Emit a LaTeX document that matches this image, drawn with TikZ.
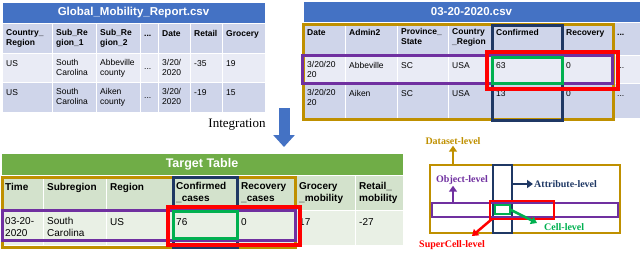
\documentclass[tikz,border=0pt]{standalone}
\usepackage{fontspec}
\setmainfont{Liberation Serif}
\setsansfont{Liberation Sans}
\usetikzlibrary{arrows.meta, positioning}

\definecolor{hdrblue}{HTML}{4472C4}
\definecolor{bluedark}{HTML}{CFD5EA}
\definecolor{bluelight}{HTML}{E9EBF5}
\definecolor{hdrgreen}{HTML}{70AD47}
\definecolor{greendark}{HTML}{D3E2CC}
\definecolor{greenlight}{HTML}{E9F0E5}
\definecolor{goldline}{HTML}{BF9000}
\definecolor{navyline}{HTML}{1F3864}
\definecolor{purpleline}{HTML}{7030A0}
\definecolor{redline}{HTML}{FF0000}
\definecolor{greenline}{HTML}{00B050}

\begin{document}
\begin{tikzpicture}[
    x=1pt, y=-1pt,
    cell/.style={draw=white, line width=1pt, fill=#1, anchor=north west, inner sep=0pt, outer sep=0pt},
    titlecell/.style={text=white, font=\sffamily\bfseries\fontsize{11.5}{13}\selectfont},
    celltext/.style={anchor=north west, align=left, inner xsep=4pt, inner ysep=6.5pt,
        execute at begin node=\strut, font=\sffamily\fontsize{8.5}{10}\selectfont},
    headtext/.style={celltext, font=\sffamily\bfseries\fontsize{8.5}{10}\selectfont},
    bigtext/.style={celltext, inner ysep=7pt, font=\sffamily\fontsize{10}{12}\selectfont},
    bigheadtext/.style={bigtext, font=\sffamily\bfseries\fontsize{10}{12}\selectfont},
    hbox/.style={draw=#1, line width=3pt, anchor=north west, inner sep=0pt, outer sep=0pt},
    lvltext/.style={font=\bfseries\fontsize{10}{12}\selectfont, inner sep=1pt},
    lvlarrow/.style={-{Triangle[length=6pt, width=8pt]}, line width=2.5pt}
]
\useasboundingbox (0,0) rectangle (640,252);

% Global_Mobility_Report.csv
\node[cell=hdrblue, titlecell, minimum width=263pt, minimum height=21pt] (gm-title) at (2,2) {Global\_Mobility\_Report.csv};
\foreach \x/\w/\t [count=\i] in {2/50/{Country\_\\Region}, 52/44/{Sub\_Re\\gion\_1}, 96/44/{Sub\_Re\\gion\_2}, 140/18/{...}, 158/32/Date, 190/32/Retail, 222/43/Grocery}
    \node[cell=bluedark, minimum width=\w pt, minimum height=30pt, label={[headtext]north west:\t}] (gm-h\i) at (\x,23) {};
\foreach \x/\w/\t [count=\i] in {2/50/US, 52/44/{South\\Carolina}, 96/44/{Abbeville\\county}, 140/18/{\\...}, 158/32/{3/20/\\2020}, 190/32/-35, 222/43/19}
    \node[cell=bluelight, minimum width=\w pt, minimum height=29pt, label={[celltext]north west:\t}] (gm-a\i) at (\x,53) {};
\foreach \x/\w/\t [count=\i] in {2/50/US, 52/44/{South\\Carolina}, 96/44/{Aiken\\county}, 140/18/{\\...}, 158/32/{3/20/\\2020}, 190/32/-19, 222/43/15}
    \node[cell=bluedark, minimum width=\w pt, minimum height=30pt, label={[celltext]north west:\t}] (gm-b\i) at (\x,82) {};

% 03-20-2020.csv
\node[cell=hdrblue, titlecell, minimum width=337pt, minimum height=21pt] (jh-title) at (303,1) {03-20-2020.csv};
\foreach \x/\w/\t [count=\i] in {303/42/Date, 345/52/Admin2, 397/51/{Province\_\\State}, 448/44/{Country\\\_Region}, 492/70/Confirmed, 562/51/Recovery, 613/27/{...}}
    \node[cell=bluedark, minimum width=\w pt, minimum height=33pt, label={[headtext]north west:\t}] (jh-h\i) at (\x,22) {};
\foreach \x/\w/\t [count=\i] in {303/42/{3/20/20\\20}, 345/52/Abbeville, 397/51/SC, 448/44/USA, 492/70/63, 562/51/0, 613/27/{...}}
    \node[cell=bluelight, minimum width=\w pt, minimum height=28pt, label={[celltext]north west:\t}] (jh-a\i) at (\x,55) {};
\foreach \x/\w/\t [count=\i] in {303/42/{3/20/20\\20}, 345/52/Aiken, 397/51/SC, 448/44/USA, 492/70/13, 562/51/0, 613/27/{...}}
    \node[cell=bluedark, minimum width=\w pt, minimum height=35pt, label={[celltext]north west:\t}] (jh-b\i) at (\x,83) {};

\node[hbox=goldline, minimum width=310pt, minimum height=95pt] (jh-dset) at (303,24) {};
\node[hbox=navyline, minimum width=70pt, minimum height=95pt] (jh-attr) at (492,25) {};
\node[hbox=purpleline, minimum width=310pt, minimum height=28pt] (jh-obj) at (302,55) {};
\node[hbox=redline, line width=3.5pt, minimum width=131pt, minimum height=37pt] (jh-super) at (487,52) {};
\node[hbox=greenline, minimum width=70pt, minimum height=26pt] (jh-cell) at (492,57) {};

% Integration
\coordinate (arr-top) at (284,108);
\coordinate (arr-tip) at (284,147);
\draw[hdrblue, line width=11pt, -{Triangle[length=12pt, width=21pt]}] (arr-top) -- (arr-tip);
\node[font=\fontsize{13}{15}\selectfont] (integ) at (237,125) {Integration};

% Target Table
\node[cell=hdrgreen, titlecell, font=\sffamily\bfseries\fontsize{12.5}{14}\selectfont, minimum width=402pt, minimum height=22pt] (tt-title) at (1,153) {Target Table};
\foreach \x/\w/\t [count=\i] in {1/42/Time, 43/63/Subregion, 106/66/Region, 172/65/{Confirmed\\\_cases}, 237/58/{Recovery\\\_cases}, 295/60/{Grocery\\\_mobility}, 355/48/{Retail\_\\mobility}}
    \node[cell=greendark, minimum width=\w pt, minimum height=35pt, label={[bigheadtext]north west:\t}] (tt-h\i) at (\x,175) {};
\foreach \x/\w/\t [count=\i] in {1/42/{03-20-\\2020}, 43/63/{South\\Carolina}, 106/66/US, 172/65/76, 237/58/0, 295/60/17, 355/48/-27}
    \node[cell=greenlight, minimum width=\w pt, minimum height=35pt, label={[bigtext]north west:\t}] (tt-a\i) at (\x,210) {};

\node[hbox=goldline, minimum width=293pt, minimum height=70pt] (tt-dset) at (2,177) {};
\node[hbox=navyline, minimum width=64pt, minimum height=70pt] (tt-attr) at (173,177) {};
\node[hbox=purpleline, minimum width=293pt, minimum height=30pt] (tt-obj) at (2,210) {};
\node[hbox=redline, line width=3.5pt, minimum width=132pt, minimum height=38pt] (tt-super) at (168,207) {};
\node[hbox=greenline, minimum width=64pt, minimum height=27pt] (tt-cell) at (173,211) {};

% Levels
\node[hbox=goldline, line width=2.5pt, minimum width=190pt, minimum height=68pt] (lg-dset) at (430,165) {};
\node[hbox=navyline, line width=2.5pt, minimum width=19pt, minimum height=68pt] (lg-attr) at (493,165) {};
\node[hbox=purpleline, line width=2.5pt, minimum width=186pt, minimum height=14pt] (lg-obj) at (432,203) {};
\node[hbox=redline, line width=2.5pt, minimum width=64pt, minimum height=18pt] (lg-super) at (490,201) {};
\node[hbox=greenline, line width=2.5pt, minimum width=15pt, minimum height=9pt] (lg-cell) at (495,205) {};

\node[lvltext, text=goldline] (lb-dset) at (453,141) {Dataset-level};
\node[lvltext, text=purpleline] (lb-obj) at (462,180) {Object-level};
\node[lvltext, text=navyline, anchor=west] (lb-attr) at (533,184) {Attribute-level};
\node[lvltext, text=greenline, anchor=west] (lb-cell) at (543,227) {Cell-level};
\node[lvltext, text=redline] (lb-super) at (452,245) {SuperCell-level};
\coordinate (cell-tip) at (537,223);
\coordinate (super-tip) at (472,236);

\draw[lvlarrow, goldline] ([xshift=23pt]lg-dset.north west) -- (lb-dset.south);
\draw[lvlarrow, purpleline] ([xshift=21pt]lg-obj.north west) coordinate (obj-foot) -- (obj-foot |- lb-obj.south);
\draw[lvlarrow, navyline] (lg-attr.east |- lb-attr.west) -- (lb-attr.west);
\draw[lvlarrow, greenline] (lg-cell.east) -- (cell-tip);
\draw[lvlarrow, redline] ([xshift=2pt]lg-super.south west) -- (super-tip);

\end{tikzpicture}
\end{document}
